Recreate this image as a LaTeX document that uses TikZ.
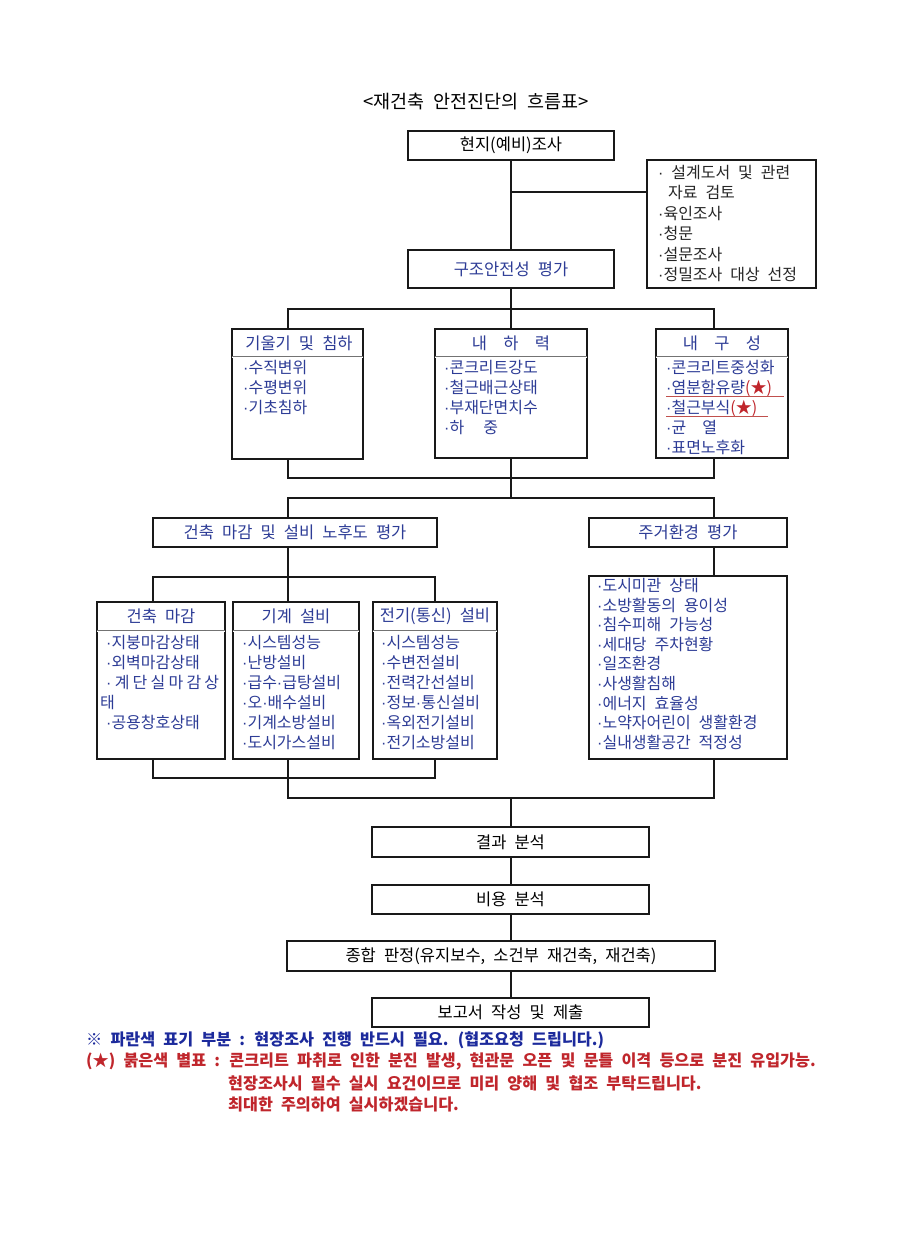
\documentclass[tikz,border=0pt]{standalone}
\usepackage{fontspec}
\usepackage{newunicodechar}
\setmainfont{Noto Sans CJK KR}[WordSpace=2.2]
\newfontfamily\dotfont{Liberation Sans}
\newunicodechar{·}{{\dotfont\symbol{"B7}}}
\definecolor{navy}{HTML}{2D3C96}
\definecolor{noteBlue}{HTML}{1C2A9C}
\definecolor{noteRed}{HTML}{C0262C}
\definecolor{markRed}{HTML}{C0504D}

\begin{document}
\begin{tikzpicture}[x=1pt, y=-1pt,
    box/.style={draw=black!90, line width=2pt, inner sep=0pt, fill=white,
                font=\fontsize{16.5}{19}\selectfont},
    wire/.style={draw=black!90, line width=2pt},
    sepline/.style={draw=black!55, double=white, double distance=0.8pt,
                    line width=0.8pt, shorten <=1pt, shorten >=1pt},
    head/.style={font=\fontsize{16.5}{19}\selectfont, text=navy, inner sep=0pt},
    items/.style={font=\fontsize{16}{20}\selectfont, text=navy, align=left,
                  anchor=north west, inner sep=0pt},
    uline/.style={draw=markRed, line width=0.9pt},
    note/.style={font=\fontsize{16.2}{19}\selectfont\bfseries, anchor=west,
                 inner sep=0pt},
]
\fill[white] (0,0) rectangle (922,1234);
\useasboundingbox (0,0) rectangle (922,1234);

% title
\node[font=\fontsize{18.5}{22}\selectfont] (title) at (476,102)
    {<재건축 안전진단의 흐름표>};

% site survey and structural assessment
\node[box, minimum width=206pt, minimum height=29pt] (pre) at (511,145.5)
    {현지(예비)조사};
\node[box, minimum width=169pt, minimum height=128pt] (docs) at (731.5,224) {};
\node[items, text=black!85, font=\fontsize{16}{20.4}\selectfont] (docsL)
    at (658,165)
    {· 설계도서 및 관련\\\hspace*{10pt}자료 검토\\·육인조사\\·청문\\·설문조사\\·정밀조사 대상 선정};
\node[box, text=navy, minimum width=206pt, minimum height=38pt] (struct)
    at (511,269) {구조안전성 평가};

\coordinate (tk) at (511,0);
\coordinate (jDoc) at (511,192);
\draw[wire] (pre) -- (struct);
\draw[wire] (jDoc) -- (jDoc -| docs.west);

% three structural items
\node[box, minimum width=131pt, minimum height=130pt] (tilt) at (297.5,394) {};
\node[box, minimum width=152pt, minimum height=129pt] (load) at (511,393.5) {};
\node[box, minimum width=132pt, minimum height=129pt] (dur) at (722,393.5) {};
\draw[sepline] (tilt.west |- 0,357) -- (tilt.east |- 0,357);
\draw[sepline] (load.west |- 0,357) -- (load.east |- 0,357);
\draw[sepline] (dur.west |- 0,357) -- (dur.east |- 0,357);

\node[head] (tiltH) at (299,343) {기울기 및 침하};
\node[head] (loadH) at (511,343) {내~~하~~력};
\node[head] (durH) at (722,343) {내~~구~~성};

\node[items] (tiltL) at (243,360) {·수직변위\\·수평변위\\·기초침하};
\node[items] (loadL) at (444,360)
    {·콘크리트강도\\·철근배근상태\\·부재단면치수\\·하\hspace{1.2em}중};
\node[items] (durL) at (666,360)
    {·콘크리트중성화\\·염분함유량\textcolor{noteRed}{(★)}\\·철근부식\textcolor{noteRed}{(★)}\\·균\hspace{1em}열\\·표면노후화};
\draw[uline] (666,396) -- (784,396);
\draw[uline] (666,416) -- (768,416);

\coordinate (fA) at (288,309);
\coordinate (fB) at (714,309);
\coordinate (gA) at (288,478);
\coordinate (gB) at (714,478);
\draw[wire] (struct) -- (load);
\draw[wire] (fA |- tilt.north) |- (fB) -- (fB |- dur.north);
\draw[wire] (gA |- tilt.south) |- (gB) -- (gB |- dur.south);

% finishing / equipment and living environment
\node[box, text=navy, minimum width=284pt, minimum height=29pt] (finish)
    at (295,532.5) {건축 마감 및 설비 노후도 평가};
\node[box, text=navy, minimum width=198pt, minimum height=29pt] (env)
    at (688,532.5) {주거환경 평가};
\node[box, minimum width=198pt, minimum height=183pt] (envBox)
    at (688,667.5) {};
\node[items, font=\fontsize{16}{19.6}\selectfont] (envL) at (597,578)
    {·도시미관 상태\\·소방활동의 용이성\\·침수피해 가능성\\·세대당 주차현황\\·일조환경\\·사생활침해\\·에너지 효율성\\·노약자어린이 생활환경\\·실내생활공간 적정성};

\coordinate (hA) at (288,498);
\coordinate (hB) at (714,498);
\draw[wire] (load) -- (load |- hA);
\draw[wire] (hA |- finish.north) |- (hB) -- (hB |- env.north);
\draw[wire] (hB |- env.south) -- (hB |- envBox.north);

% finishing, mechanical, electrical
\node[box, minimum width=128pt, minimum height=157pt] (arch) at (161,680.5) {};
\node[box, minimum width=126pt, minimum height=157pt] (mech) at (296,680.5) {};
\node[box, minimum width=124pt, minimum height=157pt] (elec) at (435,680.5) {};
\draw[sepline] (arch.west |- 0,631) -- (arch.east |- 0,631);
\draw[sepline] (mech.west |- 0,631) -- (mech.east |- 0,631);
\draw[sepline] (elec.west |- 0,631) -- (elec.east |- 0,631);

\node[head] (archH) at (161,616.5) {건축 마감};
\node[head] (mechH) at (296,616.5) {기계 설비};
\node[head] (elecH) at (435,616.5) {전기(통신) 설비};

\node[items] (archL) at (106,635)
    {·지붕마감상태\\·외벽마감상태\\\makebox[113pt][s]{·\hfill 계\hfill 단\hfill 실\hfill 마\hfill 감\hfill 상}\\\hspace*{-6pt}태\\·공용창호상태};
\node[items] (mechL) at (242,635)
    {·시스템성능\\·난방설비\\·급수·급탕설비\\·오·배수설비\\·기계소방설비\\·도시가스설비};
\node[items] (elecL) at (381,635)
    {·시스템성능\\·수변전설비\\·전력간선설비\\·정보·통신설비\\·옥외전기설비\\·전기소방설비};

\coordinate (kA) at (153,577);
\coordinate (kB) at (435,577);
\coordinate (mA) at (153,778);
\coordinate (mB) at (435,778);
\coordinate (nB) at (714,798);
\draw[wire] (hA |- finish.south) -- (hA |- mech.north);
\draw[wire] (kA |- arch.north) |- (kB) -- (kB |- elec.north);
\draw[wire] (mA |- arch.south) |- (mB) -- (mB |- elec.south);
\draw[wire] (hA |- mech.south) |- (nB) -- (hB |- envBox.south);

% analysis and report
\node[box, minimum width=277pt, minimum height=30pt] (res) at (510.5,842)
    {결과 분석};
\node[box, minimum width=277pt, minimum height=29pt] (cost) at (510.5,899.5)
    {비용 분석};
\node[box, minimum width=428pt, minimum height=30pt] (judge) at (501,956)
    {종합 판정(유지보수, 소건부 재건축, 재건축)};
\node[box, minimum width=277pt, minimum height=29pt] (report) at (510.5,1012.5)
    {보고서 작성 및 제출};

\draw[wire] (tk |- nB) -- (tk |- res.north);
\draw[wire] (tk |- res.south) -- (tk |- cost.north);
\draw[wire] (tk |- cost.south) -- (tk |- judge.north);
\draw[wire] (tk |- judge.south) -- (tk |- report.north);

% notes
\node[note, text=noteBlue] (note1) at (86,1040)
    {※ 파란색 표기 부분 : 현장조사 진행 반드시 필요. (협조요청 드립니다.)};
\node[note, text=noteRed] (note2) at (86,1061)
    {(★) 붉은색 별표 : 콘크리트 파취로 인한 분진 발생, 현관문 오픈 및 문틀 이격 등으로 분진 유입가능.};
\node[note, text=noteRed] (note3) at (228,1083)
    {현장조사시 필수 실시 요건이므로 미리 양해 및 협조 부탁드립니다.};
\node[note, text=noteRed] (note4) at (228,1104)
    {최대한 주의하여 실시하겠습니다.};

\end{tikzpicture}
\end{document}
